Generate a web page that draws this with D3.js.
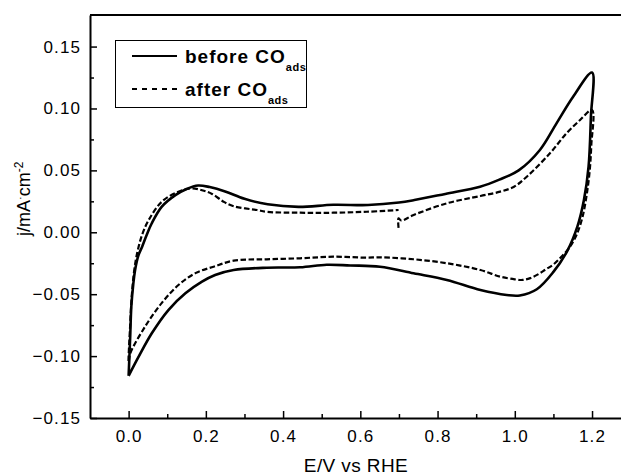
<!DOCTYPE html>
<html><head><meta charset="utf-8">
<script src="https://cdn.jsdelivr.net/npm/d3@7"></script>
<style>
html,body{margin:0;padding:0;background:#fff;}
svg{display:block;font-family:"Liberation Sans",Arial,sans-serif;}
</style></head>
<body>
<svg id="c" width="621" height="476"></svg>
<script>
// ---- data: [E (V vs RHE), j (mA cm^-2)] ----
const beforeAnodic = [
  [0,-0.116],[0.004,-0.085],[0.007,-0.060],[0.012,-0.042],[0.017,-0.030],[0.025,-0.019],
  [0.035,-0.0116],[0.047,-0.002],[0.060,0.0073],[0.086,0.0207],[0.121,0.030],[0.150,0.035],
  [0.180,0.0378],[0.210,0.0365],[0.250,0.033],[0.300,0.027],[0.360,0.0226],[0.440,0.0205],
  [0.530,0.0222],[0.620,0.022],[0.700,0.024],[0.740,0.026],[0.820,0.031],[0.910,0.0368],
  [0.960,0.0425],[1.010,0.050],[1.065,0.0665],[1.108,0.088],[1.151,0.1095],[1.200,0.129]
];
const beforeCathodic = [
  [1.200,0.129],[1.197,0.093],[1.191,0.053],[1.179,0.026],[1.162,0.0045],[1.136,-0.015],
  [1.100,-0.032],[1.057,-0.046],[1.013,-0.051],[0.979,-0.0506],[0.911,-0.0466],[0.824,-0.0385],
  [0.738,-0.0331],[0.651,-0.0278],[0.574,-0.0268],[0.513,-0.0262],[0.444,-0.0283],[0.358,-0.0286],
  [0.272,-0.0305],[0.224,-0.0345],[0.190,-0.0399],[0.147,-0.0493],[0.103,-0.0628],[0.060,-0.0816],
  [0.026,-0.1005],[0,-0.116]
];
const afterAnodicLow = [
  [0,-0.105],[0.004,-0.075],[0.008,-0.052],[0.014,-0.032],[0.022,-0.017],[0.035,-0.002],
  [0.052,0.0099],[0.086,0.0247],[0.129,0.0328],[0.164,0.0355],[0.190,0.034],[0.216,0.031],
  [0.246,0.0247],[0.272,0.021],[0.332,0.018],[0.358,0.0165],[0.444,0.0158],[0.530,0.0158],
  [0.617,0.0166],[0.699,0.018]
];
const afterAnodicHigh = [
  [0.699,0.0035],[0.699,0.0113],[0.706,0.0095],[0.738,0.014],[0.824,0.0234],[0.911,0.0293],
  [0.962,0.0328],[0.998,0.0368],[1.031,0.0449],[1.091,0.0638],[1.134,0.080],[1.169,0.0907],
  [1.200,0.0988]
];
const afterCathodic = [
  [1.200,0.0988],[1.198,0.070],[1.194,0.050],[1.186,0.030],[1.175,0.012],[1.160,-0.002],
  [1.140,-0.013],[1.120,-0.020],[1.100,-0.026],[1.080,-0.030],[1.060,-0.034],[1.040,-0.037],
  [1.020,-0.0385],[1.000,-0.038],[0.962,-0.0358],[0.911,-0.0305],[0.824,-0.025],[0.738,-0.0218],
  [0.651,-0.0202],[0.617,-0.0205],[0.530,-0.0197],[0.444,-0.021],[0.358,-0.0218],[0.272,-0.0229],
  [0.220,-0.0278],[0.173,-0.033],[0.129,-0.0426],[0.086,-0.057],[0.043,-0.076],[0.004,-0.098],
  [0,-0.105]
];
const xTicks = [0.0,0.2,0.4,0.6,0.8,1.0,1.2];
const xMinor = [0.1,0.3,0.5,0.7,0.9,1.1];
const yTicks = [-0.15,-0.10,-0.05,0.00,0.05,0.10,0.15];
const yMinor = [-0.125,-0.075,-0.025,0.025,0.075,0.125];
const seriesNames = ["before CO","after CO"];

const svg = d3.select("#c");
const x = d3.scaleLinear().domain([-0.1,1.275]).range([90,621]);
const y = d3.scaleLinear().domain([-0.15,0.1755]).range([418,15]);

// axes
svg.append("g").attr("transform","translate(0,418)")
  .call(d3.axisBottom(x).tickValues(xTicks).tickFormat(d3.format(".1f")).tickSizeInner(-7).tickSizeOuter(0).tickPadding(12));
svg.append("g").attr("transform","translate(0,418)")
  .call(d3.axisBottom(x).tickValues(xMinor).tickFormat("").tickSizeInner(-4).tickSizeOuter(0))
  .select(".domain").remove();
svg.append("g").attr("transform","translate(90,0)")
  .call(d3.axisLeft(y).tickValues(yTicks).tickFormat(d3.format(".2f")).tickSizeInner(-7).tickSizeOuter(0).tickPadding(9));
svg.append("g").attr("transform","translate(90,0)")
  .call(d3.axisLeft(y).tickValues(yMinor).tickFormat("").tickSizeInner(-4).tickSizeOuter(0))
  .select(".domain").remove();
svg.selectAll(".domain").attr("stroke","#000").attr("stroke-width",2);
svg.selectAll(".tick line").attr("stroke","#000").attr("stroke-width",1.5);
svg.selectAll(".tick text").attr("font-size",17).attr("letter-spacing","1.1px").attr("fill","#000")
  .attr("font-family","'Liberation Sans',Arial,sans-serif");
// top frame
svg.append("line").attr("x1",x.range()[0]).attr("x2",x.range()[1]).attr("y1",y.range()[1]).attr("y2",y.range()[1])
  .attr("stroke","#000").attr("stroke-width",2);

// curves
const line = d3.line().x(d=>x(d[0])).y(d=>y(d[1])).curve(d3.curveCatmullRom.alpha(0.5));
svg.append("path").attr("d",line(beforeAnodic.concat(beforeCathodic.slice(1))))
  .attr("fill","none").attr("stroke","#000").attr("stroke-width",2.6).attr("stroke-linejoin","round");
svg.append("path").attr("d",line(afterAnodicHigh.concat(afterCathodic.slice(1),afterAnodicLow.slice(1))))
  .attr("fill","none").attr("stroke","#000").attr("stroke-width",2.2).attr("stroke-dasharray","5.5,2.5");

// legend
const lg = svg.append("g");
lg.append("rect").attr("x",115.5).attr("y",40.5).attr("width",191).attr("height",67)
  .attr("fill","#fff").attr("stroke","#000").attr("stroke-width",1);
const rows = [{y:56,dash:null},{y:89,dash:"5,5"}];
rows.forEach((r,i)=>{
  lg.append("line").attr("x1",132).attr("x2",177).attr("y1",r.y).attr("y2",r.y)
    .attr("stroke","#000").attr("stroke-width",2).attr("stroke-dasharray",r.dash);
  const t = lg.append("text").attr("x",185).attr("y",r.y+7).attr("font-size",19)
    .attr("font-weight","bold").attr("letter-spacing","1px");
  t.append("tspan").text(seriesNames[i]);
  t.append("tspan").attr("font-size",11).attr("dy",8).attr("letter-spacing","0.5px").text("ads");
});

// axis titles
svg.append("text").attr("x",356).attr("y",472).attr("text-anchor","middle").attr("font-size",19)
  .attr("letter-spacing","0.4px").text("E/V vs RHE");
const yt = svg.append("text").attr("transform","translate(30,236) rotate(-90)").attr("font-size",18);
yt.append("tspan").text("j/mA");
yt.append("tspan").attr("dy",-6).attr("font-size",11).text("·");
yt.append("tspan").attr("dy",6).text("cm");
yt.append("tspan").attr("dy",-7).attr("font-size",12).text("-2");
</script>
</body></html>
